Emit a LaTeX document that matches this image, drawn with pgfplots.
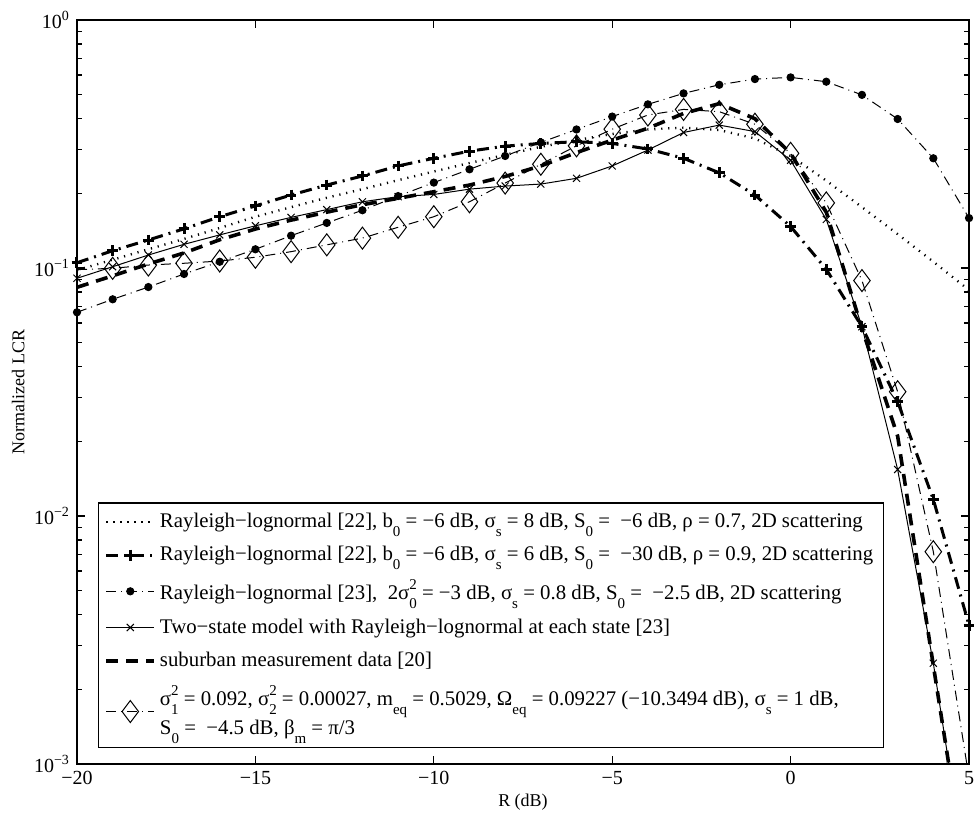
\documentclass[border=0pt]{standalone}
\usepackage{pgfplots}
\pgfplotsset{compat=1.18}
\usepackage{fontspec}
\setmainfont{Liberation Serif}
\newcommand\lsub[1]{\raisebox{-4.5pt}{\fontsize{7.5}{8}\selectfont #1}}
\newcommand\lsup[1]{\raisebox{5pt}{\fontsize{7.5}{8}\selectfont #1}}
\newcommand\supsub[2]{\rlap{\lsup{#1}}\lsub{#2}}
\begin{document}
\begin{tikzpicture}
\begin{axis}[
  scale only axis, width=446pt, height=372pt,
  xmin=-20, xmax=5, ymode=log, ymin=1e-3, ymax=1,
  xtick={-20,-15,-10,-5,0,5},
  xticklabels={−20,−15,−10,−5,0,5},
  ytick={0.001,0.01,0.1,1},
  minor ytick={0.002,0.003,0.004,0.005,0.006,0.007,0.008,0.009,0.02,0.03,0.04,0.05,0.06,0.07,0.08,0.09,0.2,0.3,0.4,0.5,0.6,0.7,0.8,0.9},
  yticklabels={10\textsuperscript{−3},10\textsuperscript{−2},10\textsuperscript{−1},10\textsuperscript{0}},
  tick label style={font=\fontsize{10}{12}\selectfont},
  axis line style={line width=0.6pt},
  tick style={line width=0.6pt, black},
  major tick length=4pt, minor tick length=2.5pt,
  xlabel={R (dB)}, ylabel={Normalized LCR},
  label style={font=\fontsize{9}{11}\selectfont},
  xlabel style={at={(axis description cs:0.5,-0.051)},anchor=center},
  ylabel style={at={(axis description cs:-0.066,0.5)},anchor=center},
  legend style={at={(0,0)},anchor=south west,xshift=10.5pt,yshift=8pt, draw=black, line width=0.6pt,
    font=\fontsize{10.4}{12.5}\selectfont, cells={anchor=west, align=left}, inner sep=3pt, row sep=4pt},
  legend image code/.code={\draw[mark indices={2}] plot coordinates {(0cm,0cm) (0.42cm,0cm) (0.84cm,0cm)};},
]
% Series 1: dotted
\addplot[black, line width=1.2pt, dash pattern=on 0.6pt off 2.9pt, no marks] coordinates {
(-20,0.098) (-19,0.108) (-18,0.119) (-17,0.131) (-16,0.145) (-15,0.161) (-14,0.176) (-13,0.192)
(-12,0.208) (-11,0.226) (-10,0.245) (-9,0.265) (-8,0.286) (-7,0.308) (-6,0.328) (-5,0.347)
(-4,0.362) (-3,0.368) (-2,0.36) (-1,0.333) (0,0.283) (1,0.225) (2,0.176) (3,0.137) (4,0.106) (5,0.0815)};
\addlegendentry{Rayleigh−lognormal [22], b\lsub{0} = −6 dB, σ\lsub{s} = 8 dB, S\lsub{0} = \ −6 dB, ρ = 0.7, 2D scattering}
% Series 2: thick dash-dot with +
\addplot[black, line width=1.5pt, dash pattern=on 6pt off 3pt on 1pt off 3pt, mark=+, mark size=2.7pt, mark options={solid, line width=1.5pt}] coordinates {
(-20,0.105) (-19,0.1174) (-18,0.1297) (-17,0.1439) (-16,0.161) (-15,0.178) (-14,0.197) (-13,0.216)
(-12,0.235) (-11,0.258) (-10,0.277) (-9,0.296) (-8,0.31) (-7,0.318) (-6,0.323) (-5,0.318)
(-4,0.302) (-3,0.277) (-2,0.242) (-1,0.197) (0,0.147) (1,0.0988) (2,0.058) (3,0.0289) (4,0.01167) (5,0.00363)};
\addlegendentry{Rayleigh−lognormal [22], b\lsub{0} = −6 dB, σ\lsub{s} = 6 dB, S\lsub{0} = \ −30 dB, ρ = 0.9, 2D scattering}
% Series 3: dash-dot with filled circles
\addplot[black, line width=0.5pt, dash pattern=on 5pt off 2.5pt on 0.5pt off 2.5pt, mark=*, mark size=1.8pt, mark options={solid}] coordinates {
(-20,0.0663) (-19,0.0748) (-18,0.0838) (-17,0.0946) (-16,0.106) (-15,0.119) (-14,0.135) (-13,0.152)
(-12,0.171) (-11,0.195) (-10,0.221) (-9,0.25) (-8,0.283) (-7,0.321) (-6,0.362) (-5,0.408)
(-4,0.457) (-3,0.506) (-2,0.548) (-1,0.578) (0,0.587) (1,0.564) (2,0.499) (3,0.399) (4,0.277) (5,0.159)};
\addlegendentry{Rayleigh−lognormal [23], \ 2σ\supsub{2}{0} = −3 dB, σ\lsub{s} = 0.8 dB, S\lsub{0} = \ −2.5 dB, 2D scattering}
% Series 4: solid with x
\addplot[black, line width=0.5pt, solid, mark=x, mark size=2.5pt, mark indices={1,...,25}] coordinates {
(-20,0.0909) (-19,0.1012) (-18,0.1128) (-17,0.1246) (-16,0.136) (-15,0.148) (-14,0.16) (-13,0.172)
(-12,0.185) (-11,0.194) (-10,0.198) (-9,0.208) (-8,0.214) (-7,0.218) (-6,0.23) (-5,0.258)
(-4,0.299) (-3,0.352) (-2,0.377) (-1,0.355) (0,0.272) (1,0.157) (2,0.058) (3,0.0154) (4,0.00255) (5,0.0003)};
\addlegendentry{Two−state model with Rayleigh−lognormal at each state [23]}
% Series 5: thick dashed measurement
\addplot[black, line width=1.8pt, dash pattern=on 6pt off 4pt, no marks] coordinates {
(-20,0.0836) (-19,0.093) (-18,0.1038) (-17,0.115) (-16,0.13) (-15,0.1436) (-14,0.156) (-13,0.168)
(-12,0.18) (-11,0.191) (-10,0.203) (-9,0.216) (-8,0.234) (-7,0.258) (-6,0.292) (-5,0.328)
(-4,0.366) (-3,0.42) (-2,0.46) (-1,0.40) (0,0.29) (1,0.168) (2,0.057) (3,0.021) (4,0.0025) (5,0.0003)};
\addlegendentry{suburban measurement data [20]}
% Series 6: dash-dot with diamonds
\addplot[black, line width=0.5pt, dash pattern=on 5pt off 2.5pt on 0.5pt off 2.5pt, mark=diamond, mark size=5.5pt, mark options={solid}, mark indices={2,...,25}] coordinates {
(-20,0.0985) (-19,0.0997) (-18,0.1028) (-17,0.1045) (-16,0.1067) (-15,0.1105) (-14,0.1164) (-13,0.124)
(-12,0.132) (-11,0.146) (-10,0.161) (-9,0.185) (-8,0.22) (-7,0.262) (-6,0.311) (-5,0.363)
(-4,0.414) (-3,0.436) (-2,0.427) (-1,0.38) (0,0.29) (1,0.183) (2,0.089) (3,0.0317) (4,0.00718) (5,0.00088)};
\addlegendentry{σ\supsub{2}{1} = 0.092, σ\supsub{2}{2} = 0.00027, m\lsub{eq} = 0.5029, Ω\lsub{eq} = 0.09227 (−10.3494 dB), σ\lsub{s} = 1 dB,\\ S\lsub{0} = \ −4.5 dB, β\lsub{m} = π/3}
\end{axis}
\pgfresetboundingbox
\path ([shift={(-38.5pt,-26.5pt)}]current axis.south west) rectangle ([shift={(2.5pt,10pt)}]current axis.north east);
\end{tikzpicture}
\end{document}
